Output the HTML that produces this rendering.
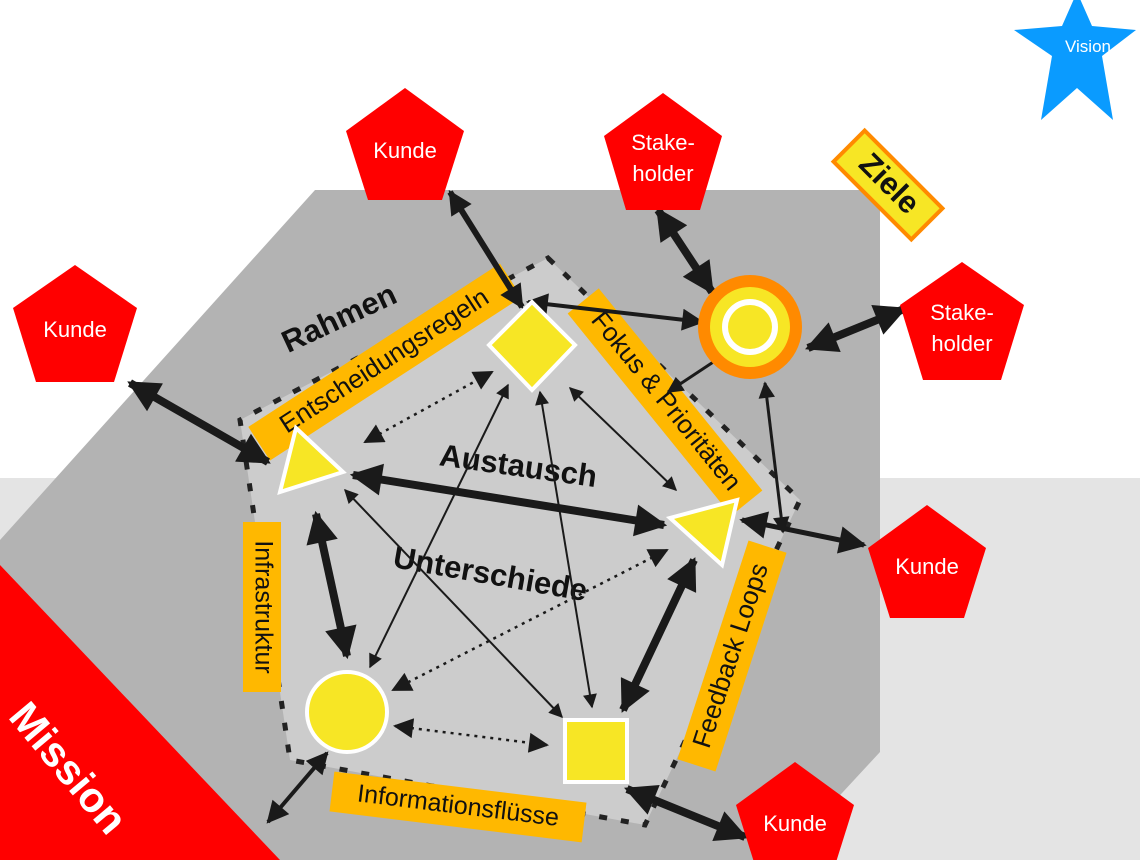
<!DOCTYPE html>
<html><head><meta charset="utf-8"><style>
html,body{margin:0;padding:0;background:#fff}
svg{display:block}
text{font-family:"Liberation Sans",Arial,sans-serif}
</style></head><body>
<svg width="1140" height="860" viewBox="0 0 1140 860" xmlns="http://www.w3.org/2000/svg">
<defs>
<marker id="b" viewBox="0 0 10 10" refX="9" refY="5" markerWidth="4.3" markerHeight="4" orient="auto-start-reverse" markerUnits="strokeWidth"><path d="M0,0 L10,5 L0,10 z" fill="#1a1a1a"/></marker>
<marker id="m" viewBox="0 0 10 10" refX="9" refY="5" markerWidth="6" markerHeight="5.5" orient="auto-start-reverse" markerUnits="strokeWidth"><path d="M0,0 L10,5 L0,10 z" fill="#1a1a1a"/></marker>
<marker id="s" viewBox="0 0 10 10" refX="9" refY="5" markerWidth="8" markerHeight="7" orient="auto-start-reverse" markerUnits="strokeWidth"><path d="M0,0 L10,5 L0,10 z" fill="#1a1a1a"/></marker>
<marker id="d" viewBox="0 0 10 10" refX="9" refY="5" markerWidth="9" markerHeight="8" orient="auto-start-reverse" markerUnits="strokeWidth"><path d="M0,0 L10,5 L0,10 z" fill="#1a1a1a"/></marker>
</defs>
<rect x="0" y="0" width="1140" height="860" fill="#fff"/>
<rect x="0" y="478" width="1140" height="382" fill="#e4e4e4"/>
<polygon points="315,190 880,190 880,752 780,860 0,860 0,540" fill="#b3b3b3"/>
<polygon points="0,565 280,860 0,860" fill="#ff0000"/>
<text x="0" y="0" transform="translate(66,770) rotate(50)" font-size="42" font-weight="bold" fill="#fff" text-anchor="middle" dominant-baseline="middle">Mission</text>

<polygon points="548,258 800,500 645,825 290,760 240,420" fill="#cccccc" stroke="#222" stroke-width="5" stroke-dasharray="8,14"/>

<!-- labels -->
<text transform="translate(340,320) rotate(-25)" font-size="31" font-weight="bold" text-anchor="middle" dominant-baseline="middle" fill="#111">Rahmen</text>
<g transform="translate(385,362) rotate(-33)"><rect x="-150" y="-20" width="300" height="40" fill="#ffb800"/><text font-size="26" text-anchor="middle" dominant-baseline="middle" fill="#111">Entscheidungsregeln</text></g>
<g transform="translate(665,402) rotate(51)"><rect x="-130" y="-20" width="260" height="40" fill="#ffb800"/><text font-size="26" text-anchor="middle" dominant-baseline="middle" fill="#111">Fokus &amp; Prioritäten</text></g>
<g transform="translate(262,607) rotate(90)"><rect x="-85" y="-19" width="170" height="38" fill="#ffb800"/><text font-size="25" text-anchor="middle" dominant-baseline="middle" fill="#111">Infrastruktur</text></g>
<g transform="translate(732,656) rotate(-72)"><rect x="-115" y="-20" width="230" height="40" fill="#ffb800"/><text font-size="26" text-anchor="middle" dominant-baseline="middle" fill="#111">Feedback Loops</text></g>
<g transform="translate(458,807) rotate(7)"><rect x="-127" y="-20" width="254" height="40" fill="#ffb800"/><text font-size="25" text-anchor="middle" dominant-baseline="middle" fill="#111">Informationsflüsse</text></g>
<text transform="translate(518,468) rotate(8)" font-size="31" font-weight="bold" text-anchor="middle" dominant-baseline="middle" fill="#111">Austausch</text>
<text transform="translate(490,576) rotate(10)" font-size="31" font-weight="bold" text-anchor="middle" dominant-baseline="middle" fill="#111">Unterschiede</text>

<!-- arrows -->
<g stroke="#1a1a1a" fill="none">
<line x1="450" y1="192" x2="522" y2="307" stroke-width="6" marker-start="url(#b)" marker-end="url(#b)"/>
<line x1="658" y1="210" x2="712" y2="292" stroke-width="8" marker-start="url(#b)" marker-end="url(#b)"/>
<line x1="528" y1="302" x2="702" y2="322" stroke-width="4" marker-start="url(#m)" marker-end="url(#m)"/>
<line x1="668" y1="392" x2="742" y2="343" stroke-width="3" marker-start="url(#m)" marker-end="url(#m)"/>
<line x1="808" y1="348" x2="904" y2="309" stroke-width="8" marker-start="url(#b)" marker-end="url(#b)"/>
<line x1="765" y1="383" x2="783" y2="532" stroke-width="3" marker-start="url(#m)" marker-end="url(#m)"/>
<line x1="742" y1="520" x2="864" y2="545" stroke-width="5" marker-start="url(#m)" marker-end="url(#m)"/>
<line x1="130" y1="383" x2="268" y2="462" stroke-width="8" marker-start="url(#b)" marker-end="url(#b)"/>
<line x1="353" y1="475" x2="664" y2="525" stroke-width="8" marker-start="url(#b)" marker-end="url(#b)"/>
<line x1="316" y1="514" x2="347" y2="656" stroke-width="8" marker-start="url(#b)" marker-end="url(#b)"/>
<line x1="694" y1="560" x2="623" y2="710" stroke-width="8" marker-start="url(#b)" marker-end="url(#b)"/>
<line x1="327" y1="753" x2="268" y2="822" stroke-width="4" marker-start="url(#m)" marker-end="url(#m)"/>
<line x1="627" y1="789" x2="745" y2="837" stroke-width="8" marker-start="url(#b)" marker-end="url(#b)"/>
<line x1="570" y1="388" x2="676" y2="490" stroke-width="2" marker-start="url(#s)" marker-end="url(#s)"/>
<line x1="508" y1="385" x2="370" y2="667" stroke-width="2" marker-start="url(#s)" marker-end="url(#s)"/>
<line x1="540" y1="392" x2="592" y2="707" stroke-width="2" marker-start="url(#s)" marker-end="url(#s)"/>
<line x1="345" y1="490" x2="562" y2="717" stroke-width="2" marker-start="url(#s)" marker-end="url(#s)"/>
<line x1="365" y1="442" x2="492" y2="372" stroke-width="2.5" stroke-dasharray="3,5" marker-start="url(#d)" marker-end="url(#d)"/>
<line x1="667" y1="550" x2="393" y2="690" stroke-width="2.5" stroke-dasharray="3,5" marker-start="url(#d)" marker-end="url(#d)"/>
<line x1="395" y1="726" x2="547" y2="745" stroke-width="2.5" stroke-dasharray="3,5" marker-start="url(#d)" marker-end="url(#d)"/>
</g>

<!-- nodes -->
<g fill="#f7e625" stroke="#fff" stroke-width="4">
<polygon points="532,302 575,345 532,390 489,345"/>
<polygon points="296,428 343,472 280,492"/>
<polygon points="737,500 722,565 670,518"/>
<circle cx="347" cy="712" r="40"/>
<rect x="565" y="720" width="62" height="62"/>
</g>
<circle cx="750" cy="327" r="52" fill="#ff8a00"/>
<circle cx="750" cy="327" r="40" fill="#f7e625"/>
<circle cx="750" cy="327" r="28" fill="#fff"/>
<circle cx="750" cy="327" r="22" fill="#f7e625"/>

<!-- pentagons -->
<g fill="#ff0000">
<polygon points="405,88 464,131 442,200 368,200 346,131"/>
<polygon points="663,93 722,136 700,210 626,210 604,136"/>
<polygon points="75,265 137,308 114,382 36,382 13,308"/>
<polygon points="962,262 1024,305 1001,380 923,380 900,305"/>
<polygon points="927,505 986,548 964,618 890,618 868,548"/>
<polygon points="795,762 854,805 832,875 758,875 736,805"/>
</g>
<g fill="#fff" font-size="22" text-anchor="middle">
<text x="405" y="158">Kunde</text>
<text x="663" y="150">Stake-</text><text x="663" y="181">holder</text>
<text x="75" y="337">Kunde</text>
<text x="962" y="320">Stake-</text><text x="962" y="351">holder</text>
<text x="927" y="574">Kunde</text>
<text x="795" y="831">Kunde</text>
</g>
<polygon points="1077,-8 1092,26 1136,30 1102,56 1113,120 1077,88 1041,120 1052,56 1014,30 1062,26" fill="#0a9bff"/>
<text x="1088" y="52" fill="#fff" font-size="17" text-anchor="middle">Vision</text>
<g transform="translate(888,185) rotate(45)"><rect x="-55" y="-22" width="110" height="44" fill="#f7e625" stroke="#ff8a00" stroke-width="4"/><text font-size="31" font-weight="bold" text-anchor="middle" dominant-baseline="middle" fill="#111">Ziele</text></g>
</svg>
</body></html>
